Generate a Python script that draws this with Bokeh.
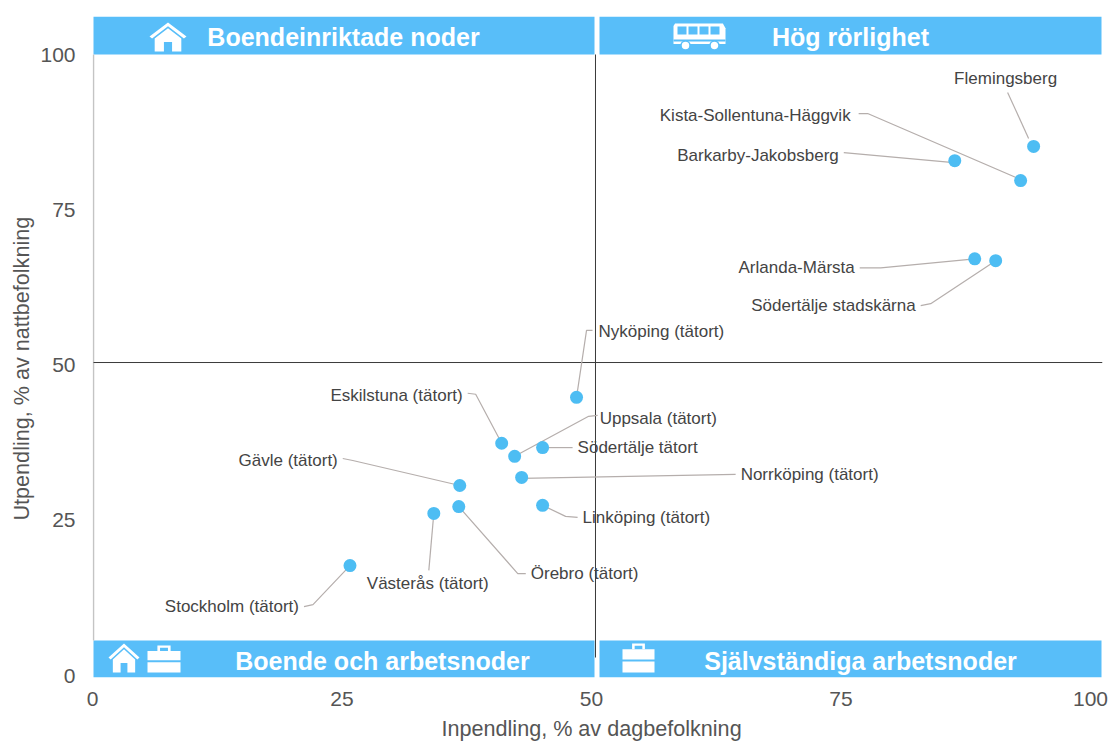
from bokeh.plotting import figure
from bokeh.models import ColumnDataSource, FixedTicker, Range1d, Title
from bokeh.core.properties import value
from bokeh.embed import file_html
from bokeh.resources import INLINE

names = ["Flemingsberg", "Kista-Sollentuna-Häggvik", "Barkarby-Jakobsberg", "Arlanda-Märsta",
         "Södertälje stadskärna", "Nyköping (tätort)", "Eskilstuna (tätort)", "Uppsala (tätort)",
         "Södertälje tätort", "Norrköping (tätort)", "Gävle (tätort)", "Linköping (tätort)",
         "Örebro (tätort)", "Västerås (tätort)", "Stockholm (tätort)"]
inpendling = [94.3, 93.0, 86.4, 88.4, 90.5, 48.5, 41.0, 42.3, 45.1, 43.0, 36.8, 45.1, 36.7, 34.2, 25.8]
utpendling = [85.2, 79.7, 82.9, 67.1, 66.8, 44.8, 37.4, 35.3, 36.7, 31.9, 30.6, 27.4, 27.2, 26.1, 17.7]
ticks = [0, 25, 50, 75, 100]
divider = 50.4
quadrants = ["Boendeinriktade noder", "Hög rörlighet", "Boende och arbetsnoder", "Självständiga arbetsnoder"]
x_title = "Inpendling, % av dagbefolkning"
y_title = "Utpendling, % av nattbefolkning"

# Page geometry
PX_X, PX_Y = 9.98, 6.21
X0, Y0 = 92, 675
W, H = 1113, 744
F_L, F_R, F_T, F_B = 92, 1102, 16, 677

def X(px): return (px - X0) / PX_X
def Y(py): return (Y0 - py) / PX_Y

p = figure(width=W, height=H, output_backend="svg", toolbar_location=None,
           x_range=Range1d(X(F_L), X(F_R)), y_range=Range1d(Y(F_B), Y(F_T)),
           frame_width=F_R - F_L, frame_height=F_B - F_T,
           min_border_left=F_L, min_border_right=W - F_R, min_border_top=F_T, min_border_bottom=H - F_B,
           background_fill_color="white", border_fill_color="white")
p.outline_line_color = None
p.grid.visible = False

for ax, tickset in ((p.xaxis, ticks), (p.yaxis, ticks)):
    ax.ticker = FixedTicker(ticks=tickset)
    ax.axis_line_color = None
    ax.major_tick_line_color = None
    ax.minor_tick_line_color = None
    ax.major_label_text_font = "Liberation Sans"
    ax.major_label_text_font_size = "21px"
    ax.major_label_text_color = "#555555"
p.xaxis.major_label_standoff = 8
p.yaxis.major_label_standoff = 11

BLUE = "#58BEF9"
p.quad(left=[X(93), X(599), X(93), X(599)], right=[X(594), X(1101), X(594), X(1101)],
       bottom=[Y(54), Y(54), Y(677), Y(677)], top=[Y(16), Y(16), Y(640), Y(640)],
       fill_color=BLUE, line_color=None)

# left edge and the two divider lines
p.segment(x0=[X(93)], y0=[Y(640)], x1=[X(93)], y1=[Y(54)], line_color="#c4c4c4", line_width=1.5)
p.segment(x0=[divider], y0=[Y(657)], x1=[divider], y1=[Y(54)], line_color="#3a3a3a", line_width=1)
p.segment(x0=[X(93)], y0=[divider], x1=[X(1102)], y1=[divider], line_color="#3a3a3a", line_width=1)

# header texts
tx = [X(343), X(850), X(382), X(860)]
ty = [Y(36), Y(36), Y(660), Y(660)]
p.text(x=tx, y=ty, text=quadrants, text_align="center", text_baseline="middle",
       text_color="white", text_font=value("Liberation Sans"), text_font_style="bold",
       text_font_size="25px")

# icons
def poly(pts):
    return [X(a) for a, b in pts], [Y(b) for a, b in pts]

def house(x, y, w, h):
    pts = [(0.5, 0), (1, .48), (.93, .55), (.5, .13), (.07, .55), (0, .48)]
    body = [(.14, .55), (.5, .2), (.86, .55), (.86, 1), (.61, 1), (.61, .67), (.39, .67), (.39, 1), (.14, 1)]
    return [poly([(x + a * w, y + b * h) for a, b in s]) for s in (pts, body)]

def case(x, y, w, h):
    top = [(0, .2), (1, .2), (1, .55), (0, .55)]
    bot = [(0, .62), (1, .62), (1, 1), (0, 1)]
    handle = [(.3, 0), (.7, 0), (.7, .2), (.62, .2), (.62, .08), (.38, .08), (.38, .2), (.3, .2)]
    return [poly([(x + a * w, y + b * h) for a, b in s]) for s in (top, bot, handle)]

def bus(x, y, w, h):
    body = [(.03, 0), (.95, 0), (1, .2), (1, .85), (0, .85), (0, .1)]
    return [poly([(x + a * w, y + b * h) for a, b in s]) for s in (body,)]

shapes = house(149, 22, 37, 29) + house(108, 643, 31, 29) + case(147, 645, 33, 27) + case(622, 643, 32, 29) + bus(673, 23, 52, 24)
p.patches([s[0] for s in shapes], [s[1] for s in shapes], fill_color="white", line_color=None)

# bus windows, bumper, wheels
wx, wy = [], []
for i in range(4):
    a = 677 + i * 11
    s = poly([(a, 26), (a + 9, 26), (a + 9, 34), (a, 34)])
    wx.append(s[0]); wy.append(s[1])
s = poly([(673, 39), (725, 39), (725, 41), (673, 41)])
wx.append(s[0]); wy.append(s[1])
p.patches(wx, wy, fill_color=BLUE, line_color=None)
p.circle(x=[X(685), X(714)], y=[Y(45), Y(45)], radius=4.5, radius_units="screen",
         fill_color="white", line_color=BLUE, line_width=1.5)

# label layout, in pixels relative to each point:
# text offset, alignment, connector elbows
layout = {
    "Flemingsberg": (-28, -68, "center", [(-26, -54), (-5, -8)]),
    "Kista-Sollentuna-Häggvik": (-170, -65, "right", [(-162, -67), (-153, -67), (-2, -2)]),
    "Barkarby-Jakobsberg": (-116, -5, "right", [(-111, -8), (-1, 2)]),
    "Arlanda-Märsta": (-120, 9, "right", [(-115, 9), (-94, 9), (0, 0)]),
    "Södertälje stadskärna": (-80, 45, "right", [(-75, 45), (-65, 43), (0, 0)]),
    "Nyköping (tätort)": (22, -66, "left", [(16, -67), (10, -67), (0, 0)]),
    "Eskilstuna (tätort)": (-39, -48, "right", [(-34, -50), (-26, -49), (0, 0)]),
    "Uppsala (tätort)": (85, -38, "left", [(83, -41), (74, -40), (0, 0)]),
    "Södertälje tätort": (35, 0, "left", [(30, 0), (0, 0)]),
    "Norrköping (tätort)": (219, -3, "left", [(214, -3), (0, 1)]),
    "Gävle (tätort)": (-122, -25, "right", [(-117, -27), (-107, -25), (0, 0)]),
    "Linköping (tätort)": (40, 12, "left", [(35, 12), (23, 11), (0, 0)]),
    "Örebro (tätort)": (72, 67, "left", [(67, 67), (59, 67), (0, 0)]),
    "Västerås (tätort)": (-67, 70, "left", [(-5, 57), (0, 0)]),
    "Stockholm (tätort)": (-51, 41, "right", [(-46, 41), (-37, 39), (0, 0)]),
}

lx, ly = [], []
for n, a, b in zip(names, inpendling, utpendling):
    pts = layout[n][3]
    lx.append([a + dx / PX_X for dx, dy in pts])
    ly.append([b - dy / PX_Y for dx, dy in pts])
p.multi_line(lx, ly, line_color="#b5aeac", line_width=1.2)

p.scatter(x=inpendling, y=utpendling, size=13, fill_color="#4DBDF3", line_color=None)

src = ColumnDataSource(dict(
    x=inpendling, y=utpendling, t=names,
    dx=[layout[n][0] for n in names], dy=[layout[n][1] for n in names],
    al=[layout[n][2] for n in names]))
p.text(x="x", y="y", text="t", x_offset="dx", y_offset="dy", text_align="al", text_baseline="middle",
       text_font=value("Liberation Sans"), text_font_size="17px", text_color="#444444", source=src)

p.add_layout(Title(text=x_title, align="left", offset=441 - F_L, standoff=11,
                   text_font="Liberation Sans", text_font_size="21.6px", text_font_style="normal",
                   text_color="#555555"), "below")
p.add_layout(Title(text=y_title, align="left", offset=F_B - 520, standoff=7,
                   text_font="Liberation Sans", text_font_size="21.6px", text_font_style="normal",
                   text_color="#555555"), "left")

open("out.html", "w").write(file_html(p, INLINE))
